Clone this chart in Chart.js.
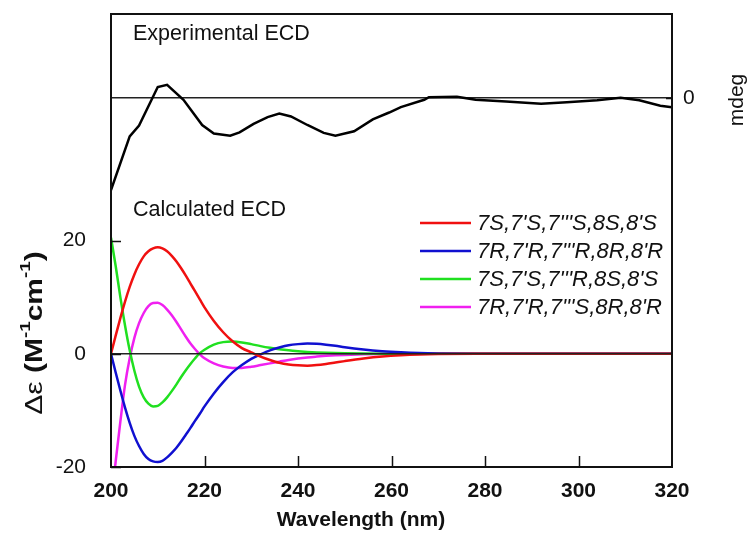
<!DOCTYPE html>
<html>
<head>
<meta charset="utf-8">
<title>ECD spectra</title>
<script src="https://cdn.jsdelivr.net/npm/chart.js@4.4.0/dist/chart.umd.min.js"></script>
<style>
  html, body { margin: 0; padding: 0; background: #fff; }
  canvas { display: block; }
</style>
</head>
<body>
<canvas id="ecdChart" width="752" height="543"></canvas>
<script>
// ---------------- DATA ----------------
const calcWavelengths = [200, 201, 202, 203, 204, 205, 206, 207, 208, 209, 210, 211, 212, 213, 214, 215, 216, 217, 218, 219,
                         220, 222, 224, 226, 228, 230, 232, 234, 236, 238, 240, 242, 244, 246, 248, 250, 254, 258, 262, 266,
                         270, 280, 290, 300, 310, 320];

// 7S,7'S,7'''S,8S,8'S
const calcSSS = [0, 3.2, 6.3, 9.2, 11.8, 14, 15.8, 17.2, 18.1, 18.6, 18.8, 18.6, 18.1, 17.3, 16.3, 15.1, 13.8, 12.4, 11, 9.6,
                 8.2, 5.8, 3.8, 2.2, 1.0, 0.25, -0.5, -1.1, -1.6, -1.9, -2.05, -2.1, -2.0, -1.8, -1.55, -1.3, -0.85, -0.5, -0.27, -0.13,
                 -0.06, -0.01, 0, 0, 0, 0];
// 7R,7'R,7'''R,8R,8'R
const calcRRR = [0, -3.3, -6.5, -9.5, -12.2, -14.5, -16.3, -17.7, -18.6, -19, -19.1, -18.9, -18.3, -17.5, -16.6, -15.5, -14.3, -13.1, -11.8, -10.6,
                 -9.3, -7, -5, -3.3, -2, -0.9, -0.1, 0.6, 1.1, 1.5, 1.7, 1.8, 1.75, 1.6, 1.4, 1.15, 0.75, 0.45, 0.25, 0.12,
                 0.06, 0.01, 0, 0, 0, 0];
// 7S,7'S,7'''R,8S,8'S
const calcSSR = [20.5, 15.5, 10, 5, 0.6, -3, -5.8, -7.7, -8.8, -9.3, -9.2, -8.6, -7.7, -6.6, -5.4, -4.1, -2.9, -1.8, -0.8, 0.1,
                 0.7, 1.6, 2.05, 2.15, 2.0, 1.7, 1.35, 1.05, 0.8, 0.6, 0.45, 0.33, 0.24, 0.17, 0.12, 0.08, 0.04, 0.02, 0.01, 0,
                 0, 0, 0, 0, 0, 0];
// 7R,7'R,7'''S,8R,8'R
const calcRRS = [-27, -19, -12, -5.5, -0.8, 2.8, 5.4, 7.2, 8.4, 8.95, 9.0, 8.6, 7.8, 6.8, 5.6, 4.3, 3.0, 1.8, 0.8, -0.1,
                 -0.8, -1.7, -2.25, -2.5, -2.5, -2.3, -2.0, -1.7, -1.4, -1.1, -0.85, -0.65, -0.5, -0.37, -0.27, -0.2, -0.1, -0.05, -0.02, 0,
                 0, 0, 0, 0, 0, 0];

const calcLabels = ["7S,7'S,7'''S,8S,8'S", "7R,7'R,7'''R,8R,8'R", "7S,7'S,7'''R,8S,8'S", "7R,7'R,7'''S,8R,8'R"];

// measured spectrum (mdeg, own axis on the right)
const expWavelengths = [200, 204, 206, 210, 212, 215.5, 219.5, 222, 225.5, 227.5, 230.5, 233.5, 236, 238.5, 242, 245.5, 248,
                        252, 256, 259.5, 262, 267, 268, 274, 278, 284.5, 292, 297.5, 304, 309, 313, 317.5, 320];
const expMdeg = [-16.3, -6.8, -4.9, 1.9, 2.3, -0.35, -4.8, -6.3, -6.7, -6.1, -4.6, -3.4, -2.8, -3.3, -4.8, -6.2, -6.7,
                 -5.9, -3.8, -2.6, -1.65, -0.35, 0.1, 0.2, -0.35, -0.65, -1.05, -0.8, -0.45, 0, -0.45, -1.4, -1.65];

const xTicks = [200, 220, 240, 260, 280, 300, 320];
const yTicks = [-20, 0, 20];

// ---------------- STYLE ----------------
const FONT = 'Arial, "Liberation Sans", sans-serif';
const calcColors = ["#f01010", "#1010d0", "#20e020", "#f020f0"];
const EXP_SHIFT = 45.2;   // where the mdeg zero sits on the Δε scale

Chart.defaults.font.family = FONT;
Chart.defaults.color = "#111";

const toPoints = (xs, ys) => xs.map((x, i) => ({ x: x, y: ys[i] }));

const calcDatasets = [calcSSS, calcRRR, calcSSR, calcRRS].map((vals, i) => ({
    label: calcLabels[i],
    data: toPoints(calcWavelengths, vals),
    borderColor: calcColors[i],
    borderWidth: 2.5,
    pointRadius: 0,
    cubicInterpolationMode: "monotone",
    yAxisID: "y",
    order: 2
}));

// zero lines
const zeroCalc = {
    label: "zero",
    data: [{ x: 200, y: 0 }, { x: 320, y: 0 }],
    borderColor: "#222",
    borderWidth: 1.5,
    pointRadius: 0,
    yAxisID: "y",
    order: 1
};
const zeroExp = {
    label: "zeroExp",
    data: [{ x: 200, y: 0 }, { x: 320, y: 0 }],
    borderColor: "#222",
    borderWidth: 1.5,
    pointRadius: 0,
    yAxisID: "y2",
    order: 1
};
const expDataset = {
    label: "Experimental",
    data: toPoints(expWavelengths, expMdeg),
    borderColor: "#000",
    borderWidth: 2.5,
    pointRadius: 0,
    tension: 0,
    yAxisID: "y2",
    order: 0
};

// no overhang padding for tick labels: the plot box is fixed
function noOverhang(s) {
    s.paddingTop = 0;
    s.paddingBottom = 0;
    s.paddingLeft = 0;
    s.paddingRight = 0;
}

// ---------------- DECORATIONS (frame, inside ticks, texts, legend) ----------------
const decorPlugin = {
    id: "decor",
    afterDatasetsDraw(chart) {
        const ctx = chart.ctx;
        const a = chart.chartArea;
        const sx = chart.scales.x, sy = chart.scales.y, sy2 = chart.scales.y2;
        ctx.save();

        // frame
        ctx.strokeStyle = "#111";
        ctx.lineWidth = 2;
        ctx.strokeRect(a.left, a.top, a.right - a.left, a.bottom - a.top);

        // inside ticks
        ctx.lineWidth = 1.5;
        ctx.beginPath();
        xTicks.slice(1, -1).forEach(v => {
            const px = Math.round(sx.getPixelForValue(v)) + 0.5;
            ctx.moveTo(px, a.bottom);
            ctx.lineTo(px, a.bottom - 11);
        });
        yTicks.forEach(v => {
            const py = Math.round(sy.getPixelForValue(v)) + 0.5;
            ctx.moveTo(a.left, py);
            ctx.lineTo(a.left + 10, py);
        });
        const p0 = Math.round(sy2.getPixelForValue(0)) + 0.5;
        ctx.moveTo(a.right, p0);
        ctx.lineTo(a.right - 6, p0);
        ctx.stroke();

        // panel captions
        ctx.fillStyle = "#111";
        ctx.textBaseline = "middle";
        ctx.textAlign = "left";
        ctx.font = "21.5px " + FONT;
        ctx.fillText("Experimental ECD", 133, 34);
        ctx.fillText("Calculated ECD", 133, 210);

        // legend
        const rows = [223, 251, 279, 307];
        ctx.font = "italic 22px " + FONT;
        calcDatasets.forEach((ds, i) => {
            ctx.strokeStyle = ds.borderColor;
            ctx.lineWidth = 2.5;
            ctx.beginPath();
            ctx.moveTo(420, rows[i]);
            ctx.lineTo(471, rows[i]);
            ctx.stroke();
            ctx.fillStyle = "#111";
            ctx.fillText(ds.label, 477, rows[i] + 1);
        });

        // x title
        ctx.textAlign = "center";
        ctx.font = "bold 21px " + FONT;
        ctx.fillText("Wavelength (nm)", 361, 520);

        // right axis unit
        ctx.save();
        ctx.translate(737, 100);
        ctx.rotate(-Math.PI / 2);
        ctx.font = "21px " + FONT;
        ctx.fillText("mdeg", 0, 0);
        ctx.restore();

        // y title with superscripts, slightly widened along the text
        const parts = [
            { t: "\u0394\u03b5 ", f: "24px " + FONT, dy: 0 },
            { t: "(M", f: "bold 24px " + FONT, dy: 0 },
            { t: "-1", f: "bold 15px " + FONT, dy: -9 },
            { t: "cm", f: "bold 24px " + FONT, dy: 0 },
            { t: "-1", f: "bold 15px " + FONT, dy: -9 },
            { t: ")", f: "bold 24px " + FONT, dy: 0 }
        ];
        let total = 0;
        parts.forEach(p => { ctx.font = p.f; p.w = ctx.measureText(p.t).width; total += p.w; });
        ctx.save();
        ctx.translate(35, 333);
        ctx.rotate(-Math.PI / 2);
        ctx.scale(1.25, 1);
        ctx.textAlign = "left";
        let cx = -total / 2;
        parts.forEach(p => {
            ctx.font = p.f;
            ctx.fillText(p.t, cx, p.dy);
            cx += p.w;
        });
        ctx.restore();

        ctx.restore();
    }
};

// ---------------- CHART ----------------
new Chart(document.getElementById("ecdChart"), {
    type: "line",
    data: { datasets: [expDataset, zeroExp, zeroCalc, ...calcDatasets] },
    options: {
        responsive: false,
        animation: false,
        layout: { padding: { top: 14, left: 0, right: 0, bottom: 0 } },
        plugins: { legend: { display: false }, tooltip: { enabled: false } },
        scales: {
            x: {
                type: "linear",
                min: 200,
                max: 320,
                afterBuildTicks: s => { s.ticks = xTicks.map(v => ({ value: v })); },
                afterFit: s => { s.height = 76; noOverhang(s); },
                grid: { display: false, drawTicks: false },
                border: { display: false },
                ticks: { font: { size: 21, weight: "bold" }, padding: 12, color: "#111", maxRotation: 0 }
            },
            y: {
                type: "linear",
                position: "left",
                min: -20,
                max: 60,
                afterBuildTicks: s => { s.ticks = yTicks.map(v => ({ value: v })); },
                afterFit: s => { s.width = 111; noOverhang(s); },
                grid: { display: false, drawTicks: false },
                border: { display: false },
                ticks: { font: { size: 21 }, padding: 25, color: "#111" }
            },
            y2: {
                type: "linear",
                position: "right",
                min: -20 - EXP_SHIFT,
                max: 60 - EXP_SHIFT,
                afterBuildTicks: s => { s.ticks = [{ value: 0 }]; },
                afterFit: s => { s.width = 80; noOverhang(s); },
                grid: { display: false, drawTicks: false },
                border: { display: false },
                ticks: { font: { size: 21 }, padding: 11, color: "#111" }
            }
        }
    },
    plugins: [decorPlugin]
});
</script>
</body>
</html>
